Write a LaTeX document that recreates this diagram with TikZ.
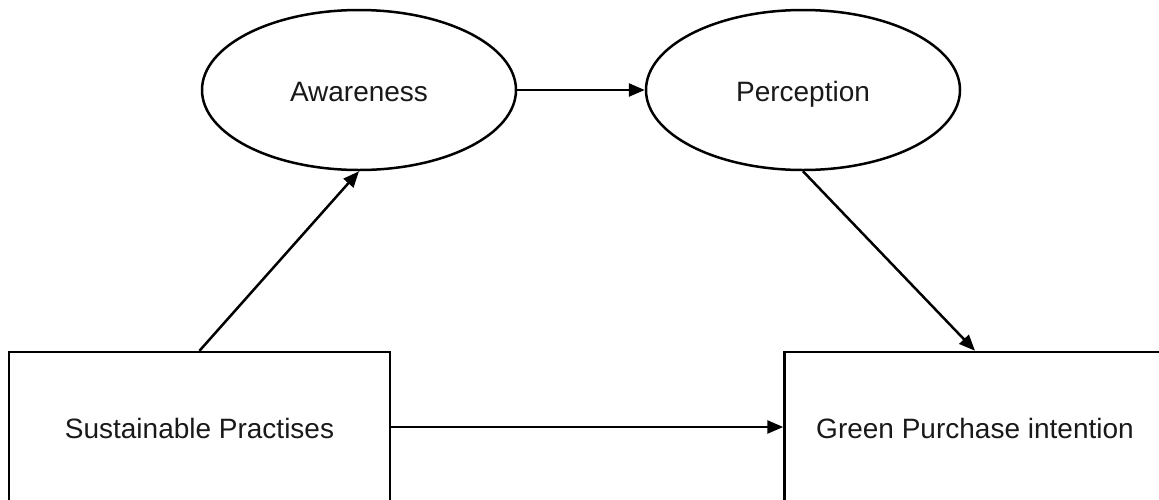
\documentclass[tikz,border=0pt]{standalone}
\usepackage{fontspec}
\setmainfont{Liberation Sans}
\usetikzlibrary{shapes.geometric,arrows.meta}
\begin{document}
\begin{tikzpicture}[x=1pt,y=-1pt,
  txt/.style={font=\fontsize{28}{32}\selectfont,text height=27pt,text depth=5pt,text=black!90},
  lat/.style={txt,draw=black,line width=2.5pt,ellipse,minimum width=314pt,minimum height=160pt,inner sep=0pt},
  obs/.style={txt,draw=black,line width=2.5pt,rectangle,minimum width=381pt,minimum height=150pt,inner sep=0pt},
  conn/.style={line width=2.5pt,-{Triangle[length=16pt,width=13pt]}}]
\useasboundingbox (0,0) rectangle (1159,499);
\clip (0,0) rectangle (1159,499);
\node[lat] (aw) at (359,90) {Awareness};
\node[lat] (pe) at (803,90) {Perception};
\node[obs] (sp) at (199.5,427) {Sustainable Practises};
\node[obs] (gp) at (975,427) {Green Purchase intention};
\draw[conn] (aw.east) -- (pe.west);
\draw[conn] (sp.north) -- (aw.south);
\draw[conn] (pe.south) -- (gp.north);
\draw[conn] (sp.east) -- (gp.west);
\end{tikzpicture}
\end{document}
